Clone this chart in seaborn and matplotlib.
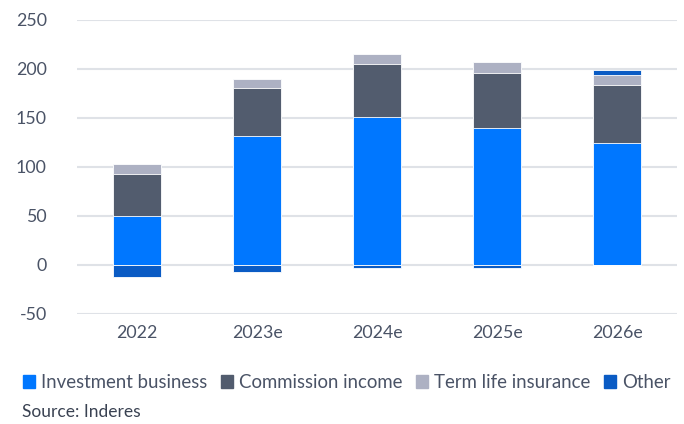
import numpy as np
import pandas as pd
import matplotlib
matplotlib.use("Agg")
import matplotlib.pyplot as plt
import seaborn as sns
from matplotlib.patches import Patch

# data
years = ["2022", "2023e", "2024e", "2025e", "2026e"]
investment = [50, 132, 151, 140, 124]
commission = [43, 48, 54, 56, 60]
term_life = [10, 10, 10, 11, 10]
other = [-12, -7, -3, -3, 5]

c_inv = "#0077ff"
c_com = "#525c6e"
c_term = "#adb1c3"
c_oth = "#0a5bc4"

sns.set_theme(style="white")
plt.rcParams['font.family'] = ['Lato', 'DejaVu Sans']

inv = np.array(investment)
com = np.array(commission)
trm = np.array(term_life)
oth = np.array(other)

# cumulative layers, drawn largest first
layers = [
    (inv + com + trm + np.clip(oth, 0, None), c_oth),
    (inv + com + trm, c_term),
    (inv + com, c_com),
    (inv, c_inv),
    (np.clip(oth, None, 0), c_oth),
]

fig, ax = plt.subplots(figsize=(6.84, 4.24), dpi=100)
fig.subplots_adjust(left=0.113, right=0.99, top=0.953, bottom=0.26)

for vals, col in layers:
    df = pd.DataFrame({"year": years, "val": vals})
    sns.barplot(data=df, x="year", y="val", color=col, width=0.4,
                edgecolor="white", linewidth=0.6, saturation=1, ax=ax, zorder=3)

ax.set_ylim(-50, 250)
ax.set_yticks(range(-50, 251, 50))
ax.set_yticklabels(["-50", "0", "50", "100", "150", "200", "250"])
ax.set_xlim(-0.5, 4.5)
ax.set_xlabel("")
ax.set_ylabel("")
ax.grid(axis="y", color="#dfe2e7", linewidth=1.5, zorder=0)
ax.set_axisbelow(True)
for s in ax.spines.values():
    s.set_visible(False)
ax.tick_params(axis="both", length=0, labelsize=12.8, labelcolor="#4a5366", pad=8)
ax.tick_params(axis="y", pad=22)

handles = [Patch(color=c_inv, label="Investment business"),
           Patch(color=c_com, label="Commission income"),
           Patch(color=c_term, label="Term life insurance"),
           Patch(color=c_oth, label="Other")]
fig.legend(handles=handles, loc="center", bbox_to_anchor=(0.507, 0.098), ncol=4,
           frameon=False, fontsize=13.4, handlelength=0.65, handleheight=0.65,
           handletextpad=0.35, columnspacing=0.7, labelcolor="#4a5366",
           borderaxespad=0, borderpad=0)

fig.text(0.032, 0.028, "Source: Inderes", fontsize=12.5, color="#3a4252", va="center")

fig.savefig("out.png", dpi=100)
